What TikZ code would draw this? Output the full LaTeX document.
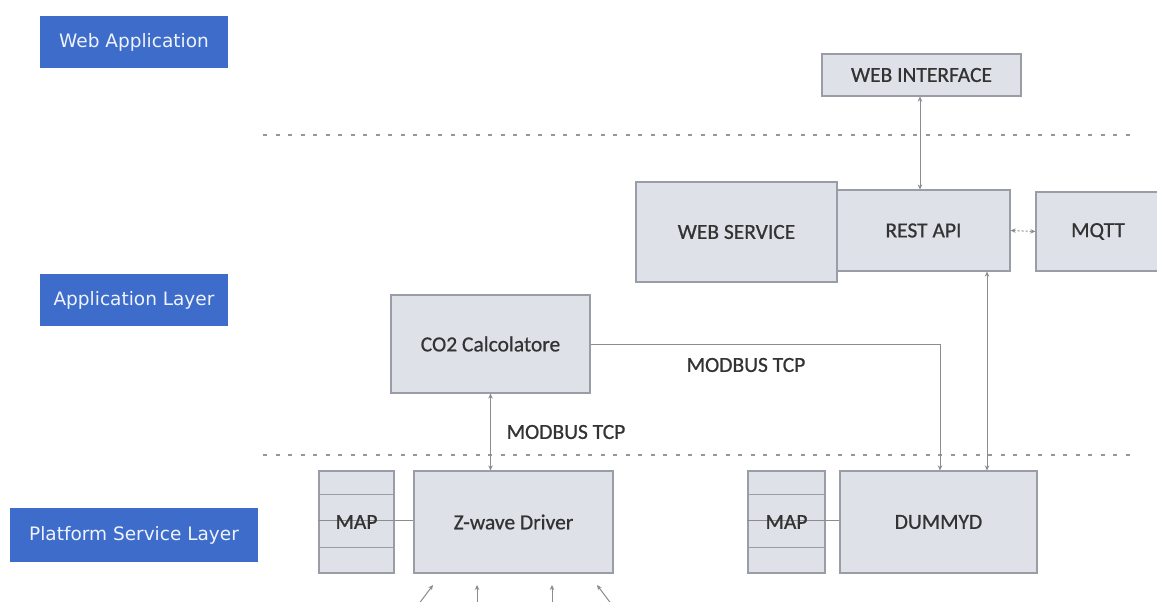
\documentclass[tikz,border=0pt]{standalone}
\usepackage{fontspec}
\setmainfont{Carlito}
\newfontfamily\boxfont{Carlito}[FakeBold=0.7]
\newfontfamily\labelfont{DejaVu Sans}
\usetikzlibrary{arrows.meta}
\definecolor{layerblue}{HTML}{3D6CCB}
\definecolor{boxfill}{HTML}{DFE1E8}
\definecolor{boxline}{HTML}{9A9DA6}
\definecolor{txt}{HTML}{333333}
\definecolor{linegray}{HTML}{8C8C90}
\tikzset{
  layer/.style={fill=layerblue, draw=none, text=white!92!layerblue, font=\labelfont\fontsize{18.5}{22}\selectfont, inner sep=0pt},
  compbox/.style={fill=boxfill, draw=boxline, line width=1.2pt, text=txt, font=\boxfont\fontsize{21.5}{25}\selectfont, inner sep=0pt},
  sep/.style={draw=linegray!90, line width=2.6pt, dash pattern=on 4pt off 8.5pt},
  conn/.style={draw=linegray, line width=1pt},
  arr/.style={conn, {Stealth[length=5pt,width=4.5pt]}-{Stealth[length=5pt,width=4.5pt]}},
  arrend/.style={conn, -{Stealth[length=5pt,width=4.5pt]}},
  lbl/.style={text=txt, font=\boxfont\fontsize{21.5}{25}\selectfont, inner sep=0pt}
}
\begin{document}
\begin{tikzpicture}[x=1pt,y=-1pt]
\useasboundingbox[fill=white] (0,0) rectangle (1157,602);

% layer labels
\node[layer, minimum width=188pt, minimum height=52pt] (webapp) at (134,42) {Web Application};
\node[layer, minimum width=188pt, minimum height=52pt] (applayer) at (134,300) {Application Layer};
\node[layer, minimum width=248pt, minimum height=54pt] (platform) at (134,535) {Platform Service Layer};

% separators
\coordinate (s1a) at (263,135);
\coordinate (s1b) at (1137,135);
\coordinate (s2a) at (263,455);
\coordinate (s2b) at (1137,455);
\draw[sep] (s1a) -- (s1b);
\draw[sep] (s2a) -- (s2b);

% components
\node[compbox, minimum width=199pt, minimum height=42pt] (webif) at (921.5,75) {WEB INTERFACE};
\node[compbox, minimum width=201pt, minimum height=100pt] (websvc) at (736.5,232) {WEB SERVICE};
\node[compbox, minimum width=173pt, minimum height=81pt] (rest) at (923.5,230.5) {REST API};
\node[compbox, minimum width=124pt, minimum height=79pt] (mqtt) at (1098,231.5) {MQTT};
\node[compbox, minimum width=199pt, minimum height=98pt] (co2) at (490.5,344) {CO2 Calcolatore};
\node[compbox, minimum width=75pt, minimum height=102pt] (map1) at (356.5,522) {};
\node[compbox, minimum width=199pt, minimum height=102pt] (zwave) at (513.5,522) {Z-wave Driver};
\node[compbox, minimum width=77pt, minimum height=102pt] (map2) at (786.5,522) {};
\node[compbox, minimum width=197pt, minimum height=102pt] (dummyd) at (938.5,522) {DUMMYD};

% MAP rows
\foreach \m in {map1,map2}{
  \draw[draw=boxline, line width=1.2pt] ([yshift=-24pt]\m.north west) -- ([yshift=-24pt]\m.north east);
  \draw[draw=boxline, line width=1.2pt] ([yshift=26pt]\m.south west) -- ([yshift=26pt]\m.south east);
  \draw[conn] ([yshift=2pt]\m.west) -- ([yshift=2pt]\m.east);
}
\draw[conn] ([yshift=2pt]map1.east) -- ([yshift=2pt]zwave.west);
\draw[conn] ([yshift=2pt]map2.east) -- ([yshift=2pt]dummyd.west);
\node[lbl] (maplbl1) at (map1) {MAP};
\node[lbl] (maplbl2) at (map2) {MAP};

% connectors
\draw[arr] ([xshift=-1.5pt]webif.south) -- ([xshift=-1.5pt]webif.south |- rest.north);
\draw[arr, dash pattern=on 2pt off 2pt] (rest.east) -- (mqtt.west);
\draw[arr] ([xshift=63.5pt]rest.south) -- ([xshift=63.5pt]rest.south |- dummyd.north);
\draw[arrend] (co2.east) -| ([xshift=1.5pt]dummyd.north);
\draw[arr] (co2.south) -- (co2.south |- zwave.north);

\node[lbl] (mb1) at (746,365) {MODBUS TCP};
\node[lbl] (mb2) at (566,432) {MODBUS TCP};

% incoming arrows at the bottom
\coordinate (b1s) at (418,605);
\coordinate (b1e) at (433,585);
\coordinate (b2s) at (477,605);
\coordinate (b2e) at (477,585);
\coordinate (b3s) at (552,605);
\coordinate (b3e) at (552,585);
\coordinate (b4s) at (612,605);
\coordinate (b4e) at (597,585);
\draw[arrend] (b1s) -- (b1e);
\draw[arrend] (b2s) -- (b2e);
\draw[arrend] (b3s) -- (b3e);
\draw[arrend] (b4s) -- (b4e);
\end{tikzpicture}
\end{document}
